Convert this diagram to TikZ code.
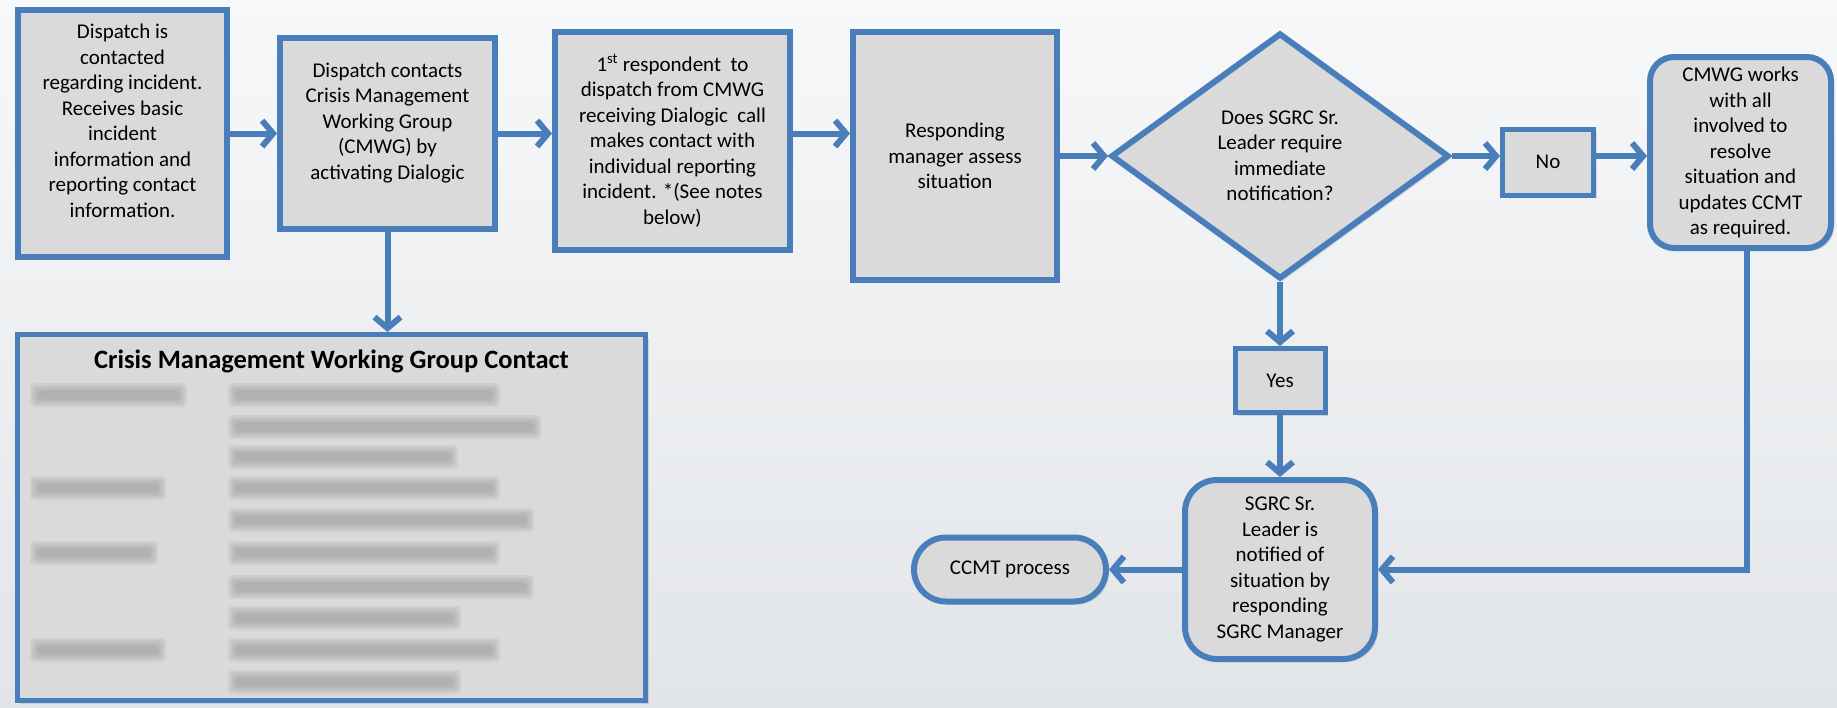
\documentclass[tikz,border=0pt]{standalone}
\usepackage{fontspec}
\setmainfont{Carlito}
\usepackage{tikz}
\usetikzlibrary{positioning,shapes.geometric,arrows.meta,shadows}

\definecolor{flowblue}{RGB}{74,126,187}
\definecolor{flowgray}{RGB}{218,218,218}
\definecolor{blurgray}{RGB}{140,140,140}
\definecolor{bgtop}{RGB}{247,248,249}
\definecolor{bgbottom}{RGB}{226,229,232}

\newcommand{\flowfont}{\fontsize{21}{25.5}\selectfont}

\begin{document}
\begin{tikzpicture}[
        x=1pt, y=-1pt,
        box/.style={rectangle, draw=flowblue, fill=flowgray, line width=6pt, inner sep=2pt, align=center, font=\flowfont, drop shadow={opacity=0.25, shadow xshift=3pt, shadow yshift=-3pt}},
        roundbox/.style={box, rounded corners=24pt},
        decision/.style={box, diamond, aspect=1.4, inner sep=0pt},
        arrow/.style={-{Straight Barb[length=11pt, width=26pt]}, draw=flowblue, line width=6pt}
    ]
    \shade[top color=bgtop, bottom color=bgbottom] (0,0) rectangle (1837,707);
    \useasboundingbox (0,0) rectangle (1837,707);

    % main row
    \node[box, minimum width=209pt, minimum height=247pt] (box1) at (122.5,133.5) {Dispatch is\\contacted\\regarding incident.\\Receives basic\\incident\\information and\\reporting contact\\information.\\\mbox{}};
    \node[box, minimum width=215pt, minimum height=191pt, right=47pt of box1] (box2) {Dispatch contacts\\Crisis Management\\Working Group\\(CMWG) by\\activating Dialogic\\\mbox{}};
    \node[box, minimum width=235pt, minimum height=218pt, right=54pt of box2, yshift=-7.5pt] (box3) {1\textsuperscript{st} respondent\ \ to\\dispatch from CMWG\\receiving Dialogic\ \ call\\makes contact with\\individual reporting\\incident. *(See notes\\below)};
    \node[box, minimum width=204pt, minimum height=248pt, right=57pt of box3, yshift=-15pt] (box4) {Responding\\manager assess\\situation};
    \node[decision, minimum width=338pt, minimum height=246pt, right=48pt of box4] (dec) {Does SGRC Sr.\\Leader require\\immediate\\notification?};
    \node[box, line width=5pt, minimum width=91pt, minimum height=66pt, right=48pt of dec, yshift=-6pt] (no) {No};
    \node[roundbox, minimum width=181pt, minimum height=191pt, right=51pt of no, yshift=9.5pt] (rbox) {CMWG works\\with all\\involved to\\resolve\\situation and\\updates CCMT\\as required.};

    % yes branch
    \node[box, line width=5pt, minimum width=90pt, minimum height=64pt, below=64pt of dec] (yes) {Yes};
    \node[roundbox, rounded corners=32pt, minimum width=190pt, minimum height=179pt, below=62pt of yes] (sgrc) {SGRC Sr.\\Leader is\\notified of\\situation by\\responding\\SGRC Manager};
    \node[roundbox, rounded corners=32pt, minimum width=192pt, minimum height=64pt, left=73pt of sgrc] (ccmt) {CCMT process};

    % contact panel (names and numbers are blurred)
    \node[box, line width=5pt, minimum width=628pt, minimum height=366pt, anchor=north west, label={[font=\fontsize{26.5}{30}\selectfont\bfseries, anchor=north, inner sep=0pt, yshift=-18pt]north:Crisis Management Working Group Contact}] (contact) at (15,332) {};
    \foreach \y/\xb in {395/494, 427/535, 457/452, 488/494, 520/528, 553/494, 587/528, 618/455, 650/494, 682/455}
        \foreach \s in {0,2,4,6,8}
            \fill[blurgray, opacity=0.13, rounded corners=4pt] (236-\s,\y-4-\s) rectangle (\xb-2+\s,\y+4+\s);
    \foreach \y/\xb in {395/181, 488/160, 553/152, 650/160}
        \foreach \s in {0,2,4,6,8}
            \fill[blurgray, opacity=0.13, rounded corners=4pt] (38-\s,\y-4-\s) rectangle (\xb-2+\s,\y+4+\s);

    % connectors
    \draw[arrow] (box1.east) -- (box2.west);
    \draw[arrow] (box2.east) -- (box2.east -| box3.west);
    \draw[arrow] (box2.east -| box3.east) -- (box2.east -| box4.west);
    \draw[arrow] (box4.east) -- (dec.west);
    \draw[arrow] (dec.east) -- (dec.east -| no.west);
    \draw[arrow] (dec.east -| no.east) -- (dec.east -| rbox.west);
    \draw[arrow] (dec.south) -- (yes.north);
    \draw[arrow] (yes.south) -- (sgrc.north);
    \draw[arrow] ([xshift=6pt]rbox.south) |- (sgrc.east);
    \draw[arrow] (sgrc.west) -- (ccmt.east);
    \draw[arrow] (box2.south) -- (box2.south |- contact.north);
\end{tikzpicture}
\end{document}
